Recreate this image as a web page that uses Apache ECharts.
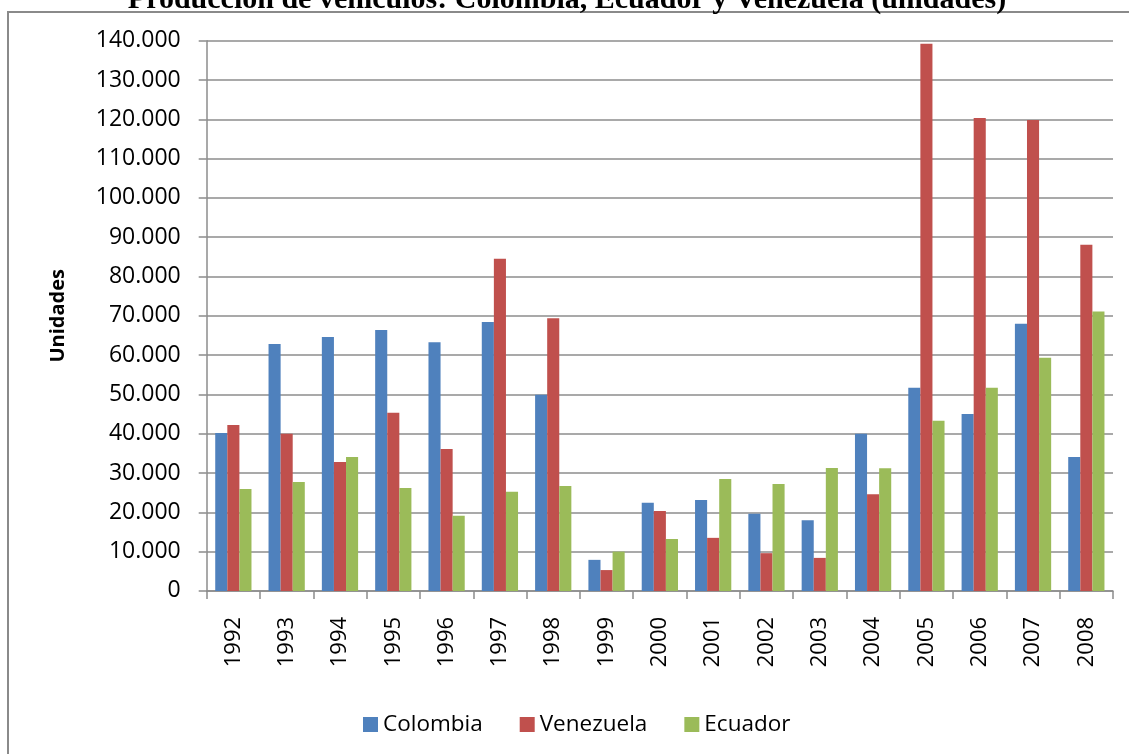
<!DOCTYPE html>
<html>
<head>
<meta charset="utf-8">
<script src="https://cdn.jsdelivr.net/npm/echarts@6/dist/echarts.min.js"></script>
<style>
  html, body { margin: 0; padding: 0; background: #fff; }
  #chart { width: 1129px; height: 754px; }
</style>
</head>
<body>
<div id="chart"></div>
<script>
// Vehicle production by year (units)
const years = ['1992','1993','1994','1995','1996','1997','1998','1999','2000','2001','2002','2003','2004','2005','2006','2007','2008'];
const colombia  = [40200, 62800, 64600, 66400, 63300, 68400, 49900, 7900, 22400, 23100, 19600, 18000, 40000, 51700, 45000, 68000, 34100];
const venezuela = [42200, 40000, 32800, 45300, 36100, 84500, 69400, 5300, 20300, 13500, 9600, 8400, 24600, 139200, 120300, 119800, 88100];
const ecuador   = [25900, 27700, 34100, 26200, 19100, 25200, 26700, 10000, 13200, 28500, 27200, 31300, 31200, 43300, 51700, 59300, 71100];

const seriesNames = ['Colombia', 'Venezuela', 'Ecuador'];
const seriesColors = ['#4F81BD', '#C0504D', '#9BBB59'];
const titleText = 'Producción de vehículos: Colombia, Ecuador y Venezuela (unidades)';

const axisGray = '#8c8c8c';
const labelFont = '"Open Sans", "Noto Sans", sans-serif';

// Thousands separated with a dot: 140000 -> 140.000
function fmtThousands(v) {
  return String(v).replace(/\B(?=(\d{3})+(?!\d))/g, '.');
}

const chart = echarts.init(document.getElementById('chart'), null, { renderer: 'canvas' });

const makeBar = (name, data, color) => ({
  name: name,
  type: 'bar',
  data: data,
  barGap: '0%',
  barCategoryGap: '32%',
  itemStyle: { color: color },
  emphasis: { disabled: true }
});

chart.setOption({
  animation: false,
  backgroundColor: '#fff',
  graphic: [
    {
      type: 'rect',
      shape: { x: 8, y: 12, width: 1200, height: 800 },
      style: { fill: 'none', stroke: '#8a8a8a', lineWidth: 2 },
      silent: true,
      z: 0
    },
    {
      type: 'text',
      x: 567,
      y: 15.5,
      style: {
        text: titleText,
        fill: '#000',
        font: 'bold 30px "Liberation Serif", "Times New Roman", serif',
        align: 'center',
        verticalAlign: 'bottom'
      },
      silent: true,
      z: 10
    }
  ],
  legend: {
    data: seriesNames,
    left: 358,
    top: 708,
    itemWidth: 15,
    itemHeight: 15,
    itemGap: 37,
    icon: 'rect',
    textStyle: { fontFamily: labelFont, fontSize: 22.5, color: '#000', padding: [0, 0, 0, 0] }
  },
  grid: {
    left: 206.7,
    right: 16,
    top: 40.7,
    bottom: 163.1,
    containLabel: false
  },
  xAxis: {
    type: 'category',
    data: years,
    boundaryGap: true,
    axisLine: { show: true, lineStyle: { color: axisGray, width: 1.5 } },
    axisTick: { show: true, length: 8, lineStyle: { color: axisGray, width: 1.5 } },
    axisLabel: {
      rotate: 90,
      margin: 26,
      interval: 0,
      color: '#000',
      fontFamily: labelFont,
      fontSize: 22
    },
    splitLine: { show: false }
  },
  yAxis: {
    type: 'value',
    min: 0,
    max: 140000,
    interval: 10000,
    name: 'Unidades',
    nameLocation: 'middle',
    nameGap: 138,
    nameRotate: 90,
    nameTextStyle: { fontFamily: labelFont, fontWeight: 'bold', fontSize: 20, color: '#000' },
    axisLine: { show: true, lineStyle: { color: axisGray, width: 1.5 } },
    axisTick: { show: true, length: 8, lineStyle: { color: axisGray, width: 1.5 } },
    axisLabel: {
      margin: 26,
      color: '#000',
      fontFamily: labelFont,
      fontSize: 23,
      formatter: fmtThousands
    },
    splitLine: { show: true, lineStyle: { color: axisGray, width: 1.5 } }
  },
  series: [
    makeBar(seriesNames[0], colombia, seriesColors[0]),
    makeBar(seriesNames[1], venezuela, seriesColors[1]),
    makeBar(seriesNames[2], ecuador, seriesColors[2])
  ]
});
</script>
</body>
</html>
